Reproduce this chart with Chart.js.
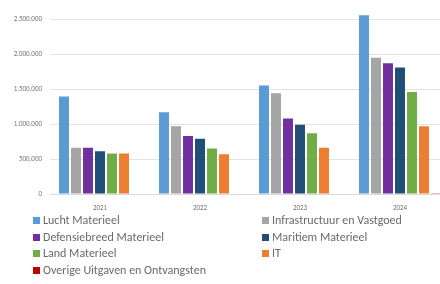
<!DOCTYPE html>
<html>
<head>
<meta charset="utf-8">
<script src="https://cdn.jsdelivr.net/npm/chart.js@4/dist/chart.umd.min.js"></script>
<style>
  html, body { margin: 0; padding: 0; background: #fff; overflow: hidden; }
  #wrap { position: relative; width: 440px; height: 284px; overflow: hidden; }
  #chart { position: absolute; left: 0; top: 0; }
  #legend { position: absolute; left: 0; top: 213px; width: 440px; font-family: Calibri, Carlito, "Liberation Sans", sans-serif; font-size: 12px; color: #6a6a6a; }
  .item { position: absolute; white-space: nowrap; line-height: 14px; }
  .box { display: inline-block; width: 7px; height: 7px; margin-right: 3px; vertical-align: 0px; }
</style>
</head>
<body>
<div id="wrap">
  <canvas id="chart" width="450" height="214"></canvas>
  <div id="legend"></div>
</div>
<script>
const years = ['2021', '2022', '2023', '2024'];

const luchtMaterieel = [1395000, 1170000, 1550000, 2555000];
const infrastructuur = [663000, 970000, 1440000, 1950000];
const defensiebreed = [660000, 830000, 1080000, 1870000];
const maritiemMaterieel = [610000, 790000, 990000, 1810000];
const landMaterieel = [580000, 650000, 870000, 1460000];
const itKosten = [580000, 570000, 660000, 970000];
const overige = [0, 0, 0, 10000];

const seriesNames = [
    'Lucht Materieel',
    'Infrastructuur en Vastgoed',
    'Defensiebreed Materieel',
    'Maritiem Materieel',
    'Land Materieel',
    'IT',
    'Overige Uitgaven en Ontvangsten'
];
const seriesData = [luchtMaterieel, infrastructuur, defensiebreed, maritiemMaterieel, landMaterieel, itKosten, overige];
const seriesColors = ['#5b9bd5', '#a5a5a5', '#7030a0', '#1f4e79', '#70ad47', '#ed7d31', '#c00000'];

const yTicks = [0, 500000, 1000000, 1500000, 2000000, 2500000];

const ctx = document.getElementById('chart').getContext('2d');
const chart = new Chart(ctx, {
    type: 'bar',
    data: {
        labels: years,
        datasets: seriesNames.map((name, i) => ({
            label: name,
            data: seriesData[i],
            backgroundColor: seriesColors[i],
            borderWidth: 0,
            categoryPercentage: 0.84,
            barPercentage: 0.83
        }))
    },
    options: {
        responsive: false,
        animation: false,
        devicePixelRatio: 1,
        layout: { padding: { top: 6, right: 0, left: 0, bottom: 0 } },
        scales: {
            x: {
                grid: { display: false },
                border: { display: true, color: '#d9d9d9' },
                ticks: {
                    color: '#777',
                    font: { family: 'Carlito, "Liberation Sans", sans-serif', size: 7 },
                    padding: 2
                },
                afterFit: (axis) => { axis.height = 20; }
            },
            y: {
                min: 0,
                max: 2600000,
                afterBuildTicks: (axis) => {
                    axis.ticks = yTicks.map(v => ({ value: v }));
                },
                grid: { color: '#e3e3e3', drawTicks: false },
                border: { display: false },
                ticks: {
                    color: '#777',
                    font: { family: 'Carlito, "Liberation Sans", sans-serif', size: 7 },
                    padding: 8,
                    callback: (v) => v.toString().replace(/\B(?=(\d{3})+(?!\d))/g, '.')
                },
                afterFit: (axis) => { axis.width = 50; }
            }
        },
        plugins: {
            legend: { display: false },
            tooltip: { enabled: false }
        }
    }
});

// legend in two columns, row by row
const legend = document.getElementById('legend');
seriesNames.forEach((name, i) => {
    const el = document.createElement('div');
    el.className = 'item';
    el.style.left = (i % 2 === 0 ? 33 : 262) + 'px';
    el.style.top = (Math.floor(i / 2) * 16.7) + 'px';
    el.innerHTML = '<span class="box" style="background:' + seriesColors[i] + '"></span>' + name;
    legend.appendChild(el);
});
</script>
</body>
</html>
